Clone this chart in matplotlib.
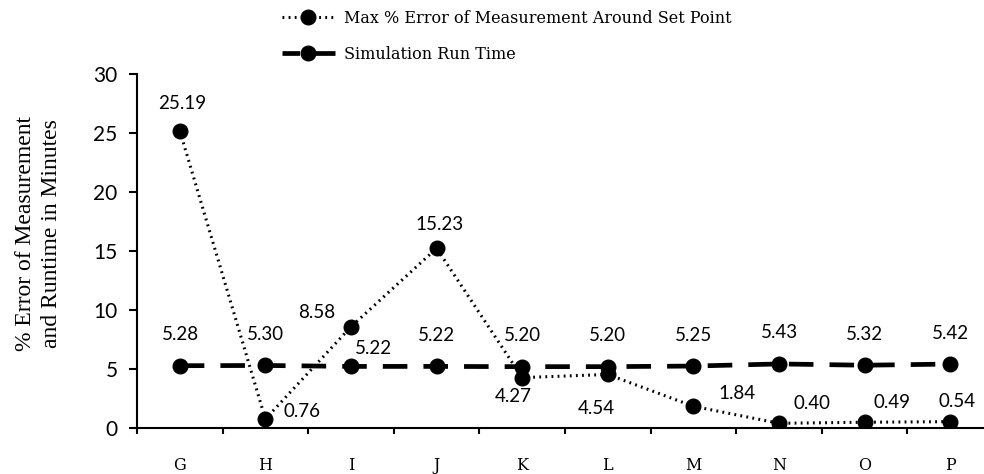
# Line chart: max % error vs simulation run time per case
import numpy as np
import matplotlib.pyplot as plt
from matplotlib.lines import Line2D

# Data
categories = ['G', 'H', 'I', 'J', 'K', 'L', 'M', 'N', 'O', 'P']
max_error = [25.19, 0.76, 8.58, 15.23, 4.27, 4.54, 1.84, 0.40, 0.49, 0.54]
run_time = [5.28, 5.30, 5.22, 5.22, 5.20, 5.20, 5.25, 5.43, 5.32, 5.42]
y_ticks = [0, 5, 10, 15, 20, 25, 30]

# label offsets in pixels (dx, dy)
err_offsets = [(2, 27), (37, 8), (-34, 14), (3, 24), (-9, -19),
               (-11, -34), (44, 13), (33, 20), (27, 20), (7, 20)]
time_offsets = [(1, 31), (0, 31), (22, 18), (0, 31), (0, 31),
                (0, 31), (0, 31), (0, 31), (0, 31), (0, 31)]

label_font = 'Lato'
serif_font = 'DejaVu Serif'
times_font = 'Liberation Serif'

dotted = (0, (0.6, 1.4))
dashed = (0, (5.2, 3.4))

fig = plt.figure(figsize=(9.84, 4.74), dpi=100)
ax = fig.add_axes([0.1392, 0.097, 0.870, 0.747])

x = np.arange(len(categories)) + 0.5

ax.plot(x, max_error, color='black', linestyle=dotted, linewidth=2.2,
        marker='o', markersize=10.5, zorder=3)
ax.plot(x, run_time, color='black', linestyle=dashed, linewidth=3.4,
        marker='o', markersize=10.5, zorder=3)

for xi, v, off in zip(x, max_error, err_offsets):
    ax.annotate(f'{v:.2f}', (xi, v), xytext=off, textcoords='offset pixels',
                ha='center', va='center', fontsize=13.5, family=label_font)
for xi, v, off in zip(x, run_time, time_offsets):
    ax.annotate(f'{v:.2f}', (xi, v), xytext=off, textcoords='offset pixels',
                ha='center', va='center', fontsize=13.5, family=label_font)

ax.set_xlim(0, len(categories))
ax.set_ylim(0, 30)
ax.set_yticks(y_ticks)
ax.set_yticklabels([str(t) for t in y_ticks], family=label_font, fontsize=15)
ax.set_xticks(np.arange(len(categories) + 1))
ax.set_xticklabels([])
ax.set_xticks(x, minor=True)
ax.set_xticklabels(categories, minor=True, family=serif_font, fontsize=11.5)
ax.tick_params(axis='x', which='minor', length=0, pad=21)
ax.tick_params(axis='x', which='major', direction='out', length=4, width=1.5)
ax.tick_params(axis='y', direction='out', length=6, width=1.5, pad=8)

for side in ['top', 'right']:
    ax.spines[side].set_visible(False)
ax.spines['left'].set_linewidth(1.5)
ax.spines['bottom'].set_linewidth(1.5)

ax.set_ylabel('% Error of Measurement\nand Runtime in Minutes', family=times_font,
              fontsize=17, linespacing=1.3)
ax.yaxis.set_label_coords(-0.0876, 0.55)

handles = [
    Line2D([], [], color='black', linestyle=dotted, linewidth=2.2,
           marker='o', markersize=10.5),
    Line2D([], [], color='black', linestyle=(1.5, (5.2, 3.4)), linewidth=3.4,
           marker='o', markersize=10.5),
]
fig.legend(handles, ['Max % Error of Measurement Around Set Point', 'Simulation Run Time'],
           loc='upper left', bbox_to_anchor=(0.272, 1.01), frameon=False,
           prop={'family': serif_font, 'size': 11.5}, handlelength=3.3,
           handletextpad=0.6, labelspacing=1.2)

plt.savefig('out.png', dpi=100)
